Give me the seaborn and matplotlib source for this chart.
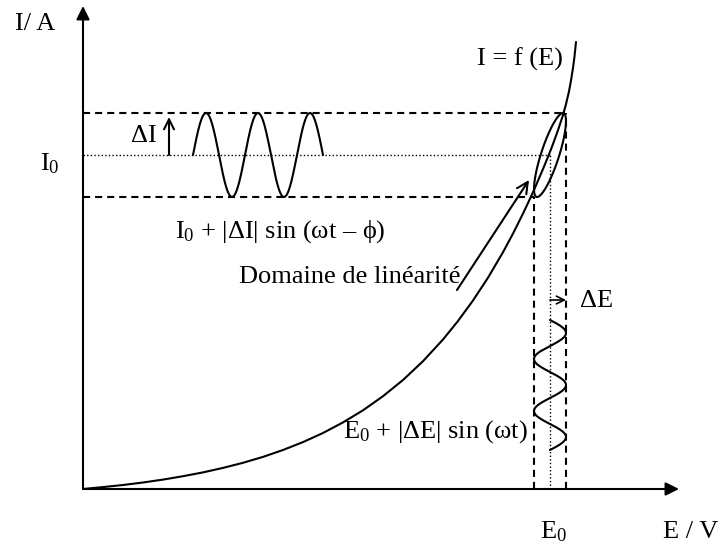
import numpy as np
import matplotlib
matplotlib.use("Agg")
import matplotlib.pyplot as plt
import seaborn as sns

sns.set_theme(style="white")
plt.rcParams['font.family'] = ['Liberation Serif', 'DejaVu Serif']
plt.rcParams['mathtext.fontset'] = 'custom'
plt.rcParams['mathtext.rm'] = 'Liberation Serif'

# ---- data (schematic units) ----
# characteristic curve I = f(E)
curve_E = [0, 20, 40, 60, 80, 100, 120, 140, 160, 180, 200, 220, 240, 260,
           280, 300, 320, 340, 360, 375, 390, 405, 420, 430, 440, 445, 451,
           460, 465, 470, 475, 480, 483, 486, 488, 490, 491.5, 493]
curve_I = [0, 1.9, 4, 6.5, 9.4, 12.8, 16.6, 21.1, 26.2, 32.1, 39, 46.9, 56,
           66.6, 78.7, 92.8, 109, 127.8, 149.5, 168, 188.5, 211.3, 236.8,
           255.4, 275.4, 286, 299, 320, 332.1, 345, 358.8, 374, 384.9, 397.6,
           408.5, 421, 432.6, 447]
E0, dE = 467, 16          # bias potential and amplitude
I0, dI = 334, 42          # bias current and amplitude
phi = 0.63                # phase shift
period = 52               # drawn period of the sine waves
n_periods = 2.5
I_wave_start = 110        # E position where the current wave is drawn
E_wave_start = 169        # I position where the potential wave is drawn

fig = plt.figure(figsize=(7.2, 5.46), dpi=100)
ax = fig.add_axes([0, 0, 1, 1])
ax.set_xlim(-83, 637)
ax.set_ylim(-57, 489)
ax.axis('off')

lw = 1.5
dash = (0, (3.4, 2.4))
dot = (0, (1, 1.6))

# axes arrows
ax.annotate('', xy=(0, 483), xytext=(0, 0),
            arrowprops=dict(arrowstyle='-|>', mutation_scale=20, lw=lw,
                            color='black', shrinkA=0, shrinkB=0))
ax.annotate('', xy=(596, 0), xytext=(0, 0),
            arrowprops=dict(arrowstyle='-|>', mutation_scale=20, lw=lw,
                            color='black', shrinkA=0, shrinkB=0))

# characteristic curve
sns.lineplot(x=curve_E, y=curve_I, sort=False, estimator=None, ax=ax,
             color='black', lw=lw)

# dashed / dotted guide lines
ax.plot([0, E0 + dE], [I0 + dI, I0 + dI], color='black', lw=lw, ls=dash)
ax.plot([0, E0 - dE], [I0 - dI, I0 - dI], color='black', lw=lw, ls=dash)
ax.plot([0, E0], [I0, I0], color='black', lw=1.0, ls=dot)
ax.plot([E0 - dE, E0 - dE], [0, I0 - dI], color='black', lw=lw, ls=dash)
ax.plot([E0 + dE, E0 + dE], [0, I0 + dI], color='black', lw=lw, ls=dash)
ax.plot([E0, E0], [0, I0], color='black', lw=1.0, ls=dot)

# current sine wave
s = np.linspace(0, n_periods * period, 300)
sns.lineplot(x=I_wave_start + s, y=I0 + dI * np.sin(2 * np.pi * s / period),
             sort=False, estimator=None, ax=ax, color='black', lw=lw)
# potential sine wave (vertical)
sns.lineplot(x=E0 + dE * np.sin(2 * np.pi * s / period), y=E_wave_start - s,
             sort=False, estimator=None, ax=ax, color='black', lw=lw)
# Lissajous ellipse
t = np.linspace(0, 2 * np.pi, 300)
sns.lineplot(x=E0 + dE * np.sin(t), y=I0 + dI * np.sin(t - phi),
             sort=False, estimator=None, ax=ax, color='black', lw=lw)

# small arrows
ax.annotate('', xy=(86, 372), xytext=(86, I0),
            arrowprops=dict(arrowstyle='->', mutation_scale=18, lw=lw,
                            color='black', shrinkA=0, shrinkB=0))
ax.annotate('', xy=(E0 + dE, 189), xytext=(E0, 189),
            arrowprops=dict(arrowstyle='->', mutation_scale=14, lw=1.2,
                            color='black', shrinkA=0, shrinkB=0))
ax.annotate('', xy=(446, 309), xytext=(374, 199),
            arrowprops=dict(arrowstyle='->', mutation_scale=20, lw=lw,
                            color='black', shrinkA=0, shrinkB=0))

fs = 19
kw = dict(fontsize=fs, color='black', va='baseline')
ax.text(-68, 459, 'I/ A', ha='left', **kw)
ax.text(394, 423, 'I = f (E)', ha='left', **kw)
ax.text(74, 347, 'ΔI', ha='right', **kw)
ax.text(-43, 319, r'$\mathregular{I_0}$', ha='left', **kw)
ax.text(92, 251, r'$\mathregular{I_0}$ + |ΔI| sin (ωt – ϕ)', ha='left', **kw)
ax.text(156, 206, 'Domaine de linéarité', ha='left', **kw)
ax.text(497, 182, 'ΔE', ha='left', **kw)
ax.text(445, 51, r'$\mathregular{E_0}$ + |ΔE| sin (ωt)', ha='right', **kw)
ax.text(470, -49, r'$\mathregular{E_0}$', ha='center', **kw)
ax.text(580, -49, 'E / V', ha='left', **kw)

fig.savefig('out.png', dpi=100)
